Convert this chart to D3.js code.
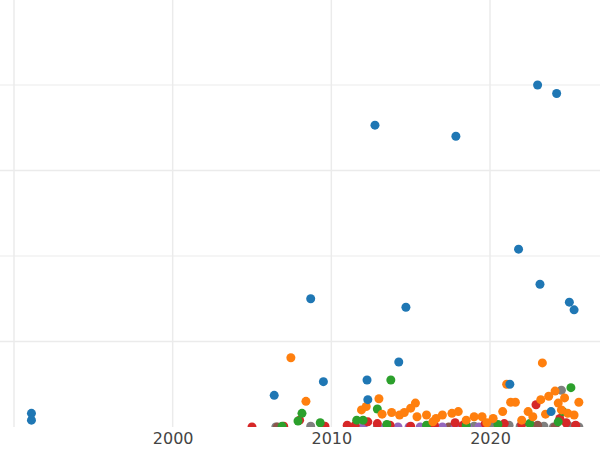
<!DOCTYPE html>
<html>
<head>
<meta charset="UTF-8">
<style>
  body { margin: 0; background: #fff; }
  .grid line { stroke: #ebebeb; }
  .xaxis text { font-family: "DejaVu Sans", sans-serif; font-size: 16px; fill: #444; }
</style>
</head>
<body>
<svg></svg>
<script src="https://d3js.org/d3.v7.min.js"></script>
<script>
  let width = 600, height = 450;

  // [year, value]
  let blue = [[1991.1,0.16],[1991.1,0.08],[2023.0,4.0],[2024.2,3.9],[2012.75,3.53],[2017.85,3.4],
    [2021.8,2.08],[2023.15,1.67],[2025.0,1.46],[2025.3,1.37],[2008.7,1.5],[2014.7,1.4],
    [2014.25,0.76],[2009.5,0.53],[2012.25,0.55],[2006.4,0.37],[2012.3,0.32],[2021.25,0.5],[2023.85,0.18]];
  let orange = [[2007.45,0.81],[2023.3,0.75],[2008.4,0.3],[2013.0,0.33],[2021.05,0.5],[2024.1,0.42],
    [2011.9,0.2],[2012.2,0.24],[2013.2,0.15],[2013.8,0.17],[2014.3,0.14],[2014.6,0.17],[2015.0,0.22],
    [2015.3,0.28],[2015.4,0.12],[2016.0,0.14],[2016.6,0.1],[2017.0,0.14],[2017.6,0.16],[2018.0,0.18],
    [2018.5,0.08],[2019.0,0.12],[2019.5,0.12],[2020.2,0.1],[2020.8,0.18],[2021.3,0.29],[2021.6,0.29],
    [2022.4,0.18],[2022.7,0.12],[2023.2,0.32],[2023.7,0.36],[2024.3,0.28],[2024.7,0.34],[2024.9,0.16],
    [2025.3,0.14],[2025.6,0.29],[2022.0,0.08],[2016.4,0.06],[2019.8,0.05],[2023.5,0.15],[2024.5,0.2]];
  let green = [[2013.75,0.55],[2025.1,0.46],[2008.15,0.16],[2012.9,0.21],[2007.9,0.07],[2009.3,0.05],
    [2011.6,0.08],[2012.0,0.08],[2013.5,0.03],[2016.0,0.02],[2020.5,0.03],[2022.5,0.04],[2024.6,0.18],
    [2024.3,0.06],[2006.9,0.01],[2018.5,0.02]];
  let red = [[2022.9,0.26],[2008.0,0.08],[2005.0,0.0],[2007.0,0.01],[2009.6,0.01],[2011.0,0.02],
    [2011.5,0.02],[2012.3,0.06],[2012.9,0.04],[2013.7,0.02],[2015.0,0.01],[2016.5,0.02],[2017.8,0.05],
    [2018.3,0.02],[2019.7,0.04],[2020.9,0.04],[2022.0,0.03],[2024.4,0.1],[2024.8,0.05],[2025.4,0.02]];
  let purple = [[2012.0,0.0],[2013.4,0.0],[2014.2,0.0],[2014.9,0.0],[2015.6,0.0],[2016.3,0.0],
    [2017.0,0.0],[2017.8,0.0],[2018.6,0.0],[2019.3,0.0]];
  let brown = [[2006.6,0.0],[2013.6,0.01],[2017.4,0.0],[2019.6,0.0],[2023.0,0.02],[2024.1,0.0]];
  let gray = [[2024.5,0.43],[2006.5,0.0],[2008.7,0.01],[2012.9,0.0],[2019.0,0.01],[2020.1,0.04],
    [2021.2,0.02],[2021.9,0.01],[2022.6,0.02],[2023.4,0.01],[2024.0,0.0],[2024.9,0.02],[2025.3,0.01],
    [2025.6,0.0],[2018.0,0.0],[2016.0,0.0]];

  let series = [
    { name: "blue", color: "#1f77b4", data: blue },
    { name: "orange", color: "#ff7f0e", data: orange },
    { name: "green", color: "#2ca02c", data: green },
    { name: "red", color: "#d62728", data: red },
    { name: "purple", color: "#9467bd", data: purple },
    { name: "brown", color: "#8c564b", data: brown },
    { name: "gray", color: "#7f7f7f", data: gray }
  ];
  let xTicks = [1990, 2000, 2010, 2020];
  let yTicks = [1, 2, 3, 4];

  let svg = d3.select("svg").attr("width", width).attr("height", height);

  let x = d3.scaleLinear().domain([1990, 2020]).range([14, 490]);
  let y = d3.scaleLinear().domain([0, 4]).range([427, 85]);

  svg.append("defs").append("clipPath").attr("id", "clip")
    .append("rect").attr("x", 0).attr("y", 0).attr("width", width).attr("height", 427);

  let grid = svg.append("g").attr("class", "grid");
  grid.selectAll(".vx").data(xTicks).enter().append("line")
    .attr("x1", d => x(d)).attr("x2", d => x(d)).attr("y1", 0).attr("y2", 427)
    .attr("stroke-width", 1.5);
  grid.selectAll(".hy").data(yTicks).enter().append("line")
    .attr("x1", 0).attr("x2", width).attr("y1", d => y(d)).attr("y2", d => y(d))
    .attr("stroke-width", d => d % 2 ? 1.5 : 1);

  svg.append("g").attr("class", "xaxis")
    .attr("transform", "translate(0,427)")
    .call(d3.axisBottom(x).tickValues([2000, 2010, 2020]).tickFormat(d3.format("d")).tickSize(0).tickPadding(6))
    .call(g => g.select(".domain").remove());

  let pts = svg.append("g").attr("clip-path", "url(#clip)");
  series.slice().reverse().forEach(s => {
    pts.selectAll(null).data(s.data).enter().append("circle")
      .attr("cx", d => x(d[0])).attr("cy", d => y(d[1]))
      .attr("r", 4.5).attr("fill", s.color);
  });
</script>
</body>
</html>
